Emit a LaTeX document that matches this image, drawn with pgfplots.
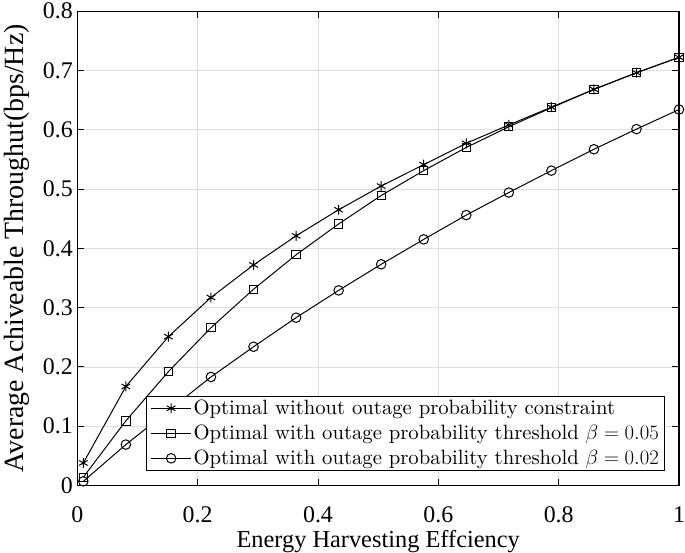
\RequirePackage{fix-cm}
\documentclass[border=0pt]{standalone}
\usepackage{fontspec}
\newfontfamily\tnr{Liberation Serif}
\newfontfamily\lmr{lmroman10-regular.otf}
\usepackage{pgfplots}
\pgfplotsset{compat=1.18}
\definecolor{gridgray}{rgb}{0.87,0.87,0.87}
\begin{document}
\begin{tikzpicture}
\begin{axis}[
  scale only axis=true,
  width=605pt, height=477pt,
  xmin=0, xmax=1, ymin=0, ymax=0.8,
  xtick={0,0.2,0.4,0.6,0.8,1},
  ytick={0,0.1,0.2,0.3,0.4,0.5,0.6,0.7,0.8},
  tick align=inside,
  major tick length=7pt,
  grid=major,
  major grid style={gridgray, line width=0.8pt},
  axis line style={black, line width=1.1pt},
  every tick/.style={black, line width=0.9pt},
  /pgf/number format/assume math mode=true,
  tick label style={font=\tnr\fontsize{24}{28}\selectfont},
  xticklabel style={inner xsep=0pt},
  xticklabel shift=18pt,
  yticklabel style={inner ysep=3pt},
  yticklabel shift=1pt,
  xlabel={Energy Harvesting Effciency},
  ylabel={Average Achiveable Throughut(bps/Hz)},
  xlabel style={font=\tnr\fontsize{24.5}{28}\selectfont, at={(axis description cs:0.5,0)}, anchor=base, inner sep=0pt, yshift=-62pt},
  ylabel style={font=\tnr\fontsize{28}{30}\selectfont, at={(axis description cs:-0.1008,0.50)}, anchor=center, inner sep=4pt},
  legend style={at={(rel axis cs:0.977,0.031)}, anchor=south east,
    font=\lmr\fontsize{20.8}{25}\selectfont, draw=black, line width=0.9pt,
    fill=white, inner xsep=4pt, inner ysep=1.5pt, row sep=4pt,
    nodes={inner xsep=2pt, inner ysep=2.5pt}},
  legend cell align=left,
  legend image code/.code={\draw[mark repeat=2, mark phase=2] plot coordinates {(0pt,0pt) (20pt,0pt) (40pt,0pt)};},
]
\addplot[black, line width=1pt, mark=asterisk, mark size=5pt, mark options={line width=1pt}] coordinates {
(0.01,0.038) (0.0807,0.167) (0.1514,0.251) (0.2221,0.317) (0.2929,0.372)
(0.3636,0.421) (0.4343,0.465) (0.505,0.505) (0.5757,0.541) (0.6464,0.577)
(0.7171,0.608) (0.7879,0.638) (0.8586,0.668) (0.9293,0.696) (1.0,0.722)};
\addlegendentry{Optimal without outage probability constraint}
\addplot[black, line width=1pt, mark=square, mark size=4.2pt, mark options={line width=1pt}] coordinates {
(0.01,0.014) (0.0807,0.109) (0.1514,0.192) (0.2221,0.266) (0.2929,0.331)
(0.3636,0.389) (0.4343,0.441) (0.505,0.489) (0.5757,0.531) (0.6464,0.570)
(0.7171,0.605) (0.7879,0.637) (0.8586,0.668) (0.9293,0.696) (1.0,0.722)};
\addlegendentry{Optimal with outage probability threshold $\beta=0.05$}
\addplot[black, line width=1pt, mark=o, mark size=4.8pt, mark options={line width=1pt}] coordinates {
(0.01,0.007) (0.0807,0.069) (0.1514,0.126) (0.2221,0.183) (0.2929,0.234)
(0.3636,0.283) (0.4343,0.329) (0.505,0.373) (0.5757,0.415) (0.6464,0.456)
(0.7171,0.494) (0.7879,0.531) (0.8586,0.567) (0.9293,0.601) (1.0,0.634)};
\addlegendentry{Optimal with outage probability threshold $\beta=0.02$}
\end{axis}
\end{tikzpicture}
\end{document}
